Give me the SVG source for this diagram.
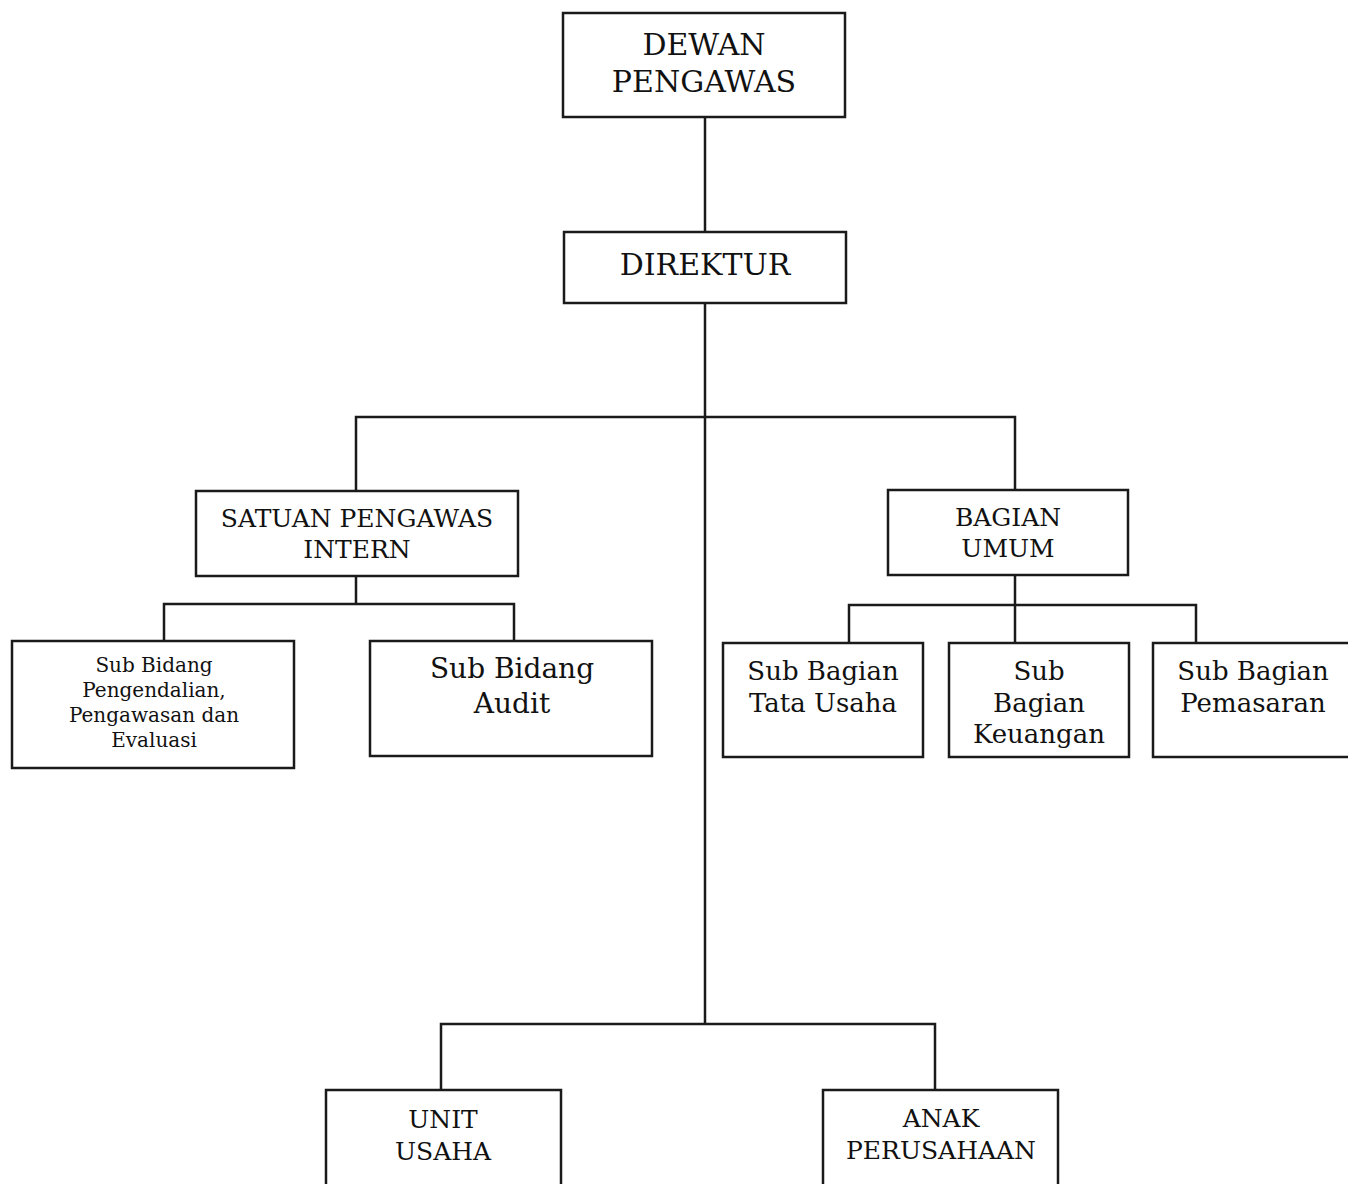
<svg xmlns="http://www.w3.org/2000/svg" width="1348" height="1184" viewBox="0 0 1348 1184">
<style>
.box{fill:#fff;stroke:#1a1a1a;stroke-width:2.5}
.ln{fill:none;stroke:#1a1a1a;stroke-width:2.5}
text{font-family:"DejaVu Serif","Liberation Serif",serif;fill:#111;text-anchor:middle}
.t30{font-size:30px}
.t28{font-size:28px}
.t26{font-size:26px}
.t22{font-size:25px}
.t18{font-size:20px}
</style>
<rect width="1348" height="1184" fill="#fff"/>
<g id="connectors">
<path class="ln" d="M705 117V232"/>
<path class="ln" d="M705 303V1024"/>
<path class="ln" d="M356 490V417H1015V490"/>
<path class="ln" d="M356 576V604M164 641V604H514V641"/>
<path class="ln" d="M1015 575V643M849 643V605H1196V643"/>
<path class="ln" d="M441 1090V1024H935V1090"/>
</g>
<g id="dewan-pengawas"><rect class="box" x="563" y="13" width="282" height="104"/>
<text class="t30" x="704" y="55">DEWAN</text><text class="t30" x="704" y="92">PENGAWAS</text></g>
<g id="direktur"><rect class="box" x="564" y="232" width="282" height="71"/>
<text class="t30" x="705" y="275">DIREKTUR</text></g>
<g id="spi"><rect class="box" x="196" y="491" width="322" height="85"/>
<text class="t22" x="357" y="527">SATUAN PENGAWAS</text><text class="t22" x="357" y="558">INTERN</text></g>
<g id="sb-pengendalian"><rect class="box" x="12" y="641" width="282" height="127"/>
<text class="t18" x="154" y="672">Sub Bidang</text><text class="t18" x="154" y="697">Pengendalian,</text><text class="t18" x="154" y="722">Pengawasan dan</text><text class="t18" x="154" y="747">Evaluasi</text></g>
<g id="sb-audit"><rect class="box" x="370" y="641" width="282" height="115"/>
<text class="t28" x="512" y="678">Sub Bidang</text><text class="t28" x="512" y="713">Audit</text></g>
<g id="bagian-umum"><rect class="box" x="888" y="490" width="240" height="85"/>
<text class="t22" x="1008" y="526">BAGIAN</text><text class="t22" x="1008" y="557">UMUM</text></g>
<g id="sb-tata-usaha"><rect class="box" x="723" y="643" width="200" height="114"/>
<text class="t26" x="823" y="680">Sub Bagian</text><text class="t26" x="823" y="712">Tata Usaha</text></g>
<g id="sb-keuangan"><rect class="box" x="949" y="643" width="180" height="114"/>
<text class="t26" x="1039" y="680">Sub</text><text class="t26" x="1039" y="712">Bagian</text><text class="t26" x="1039" y="743">Keuangan</text></g>
<g id="sb-pemasaran"><rect class="box" x="1153" y="643" width="200" height="114"/>
<text class="t26" x="1253" y="680">Sub Bagian</text><text class="t26" x="1253" y="712">Pemasaran</text></g>
<g id="unit-usaha"><rect class="box" x="326" y="1090" width="235" height="100"/>
<text class="t22" x="443" y="1128">UNIT</text><text class="t22" x="443" y="1160">USAHA</text></g>
<g id="anak-perusahaan"><rect class="box" x="823" y="1090" width="235" height="100"/>
<text class="t22" x="941" y="1127">ANAK</text><text class="t22" x="941" y="1159">PERUSAHAAN</text></g>
</svg>
